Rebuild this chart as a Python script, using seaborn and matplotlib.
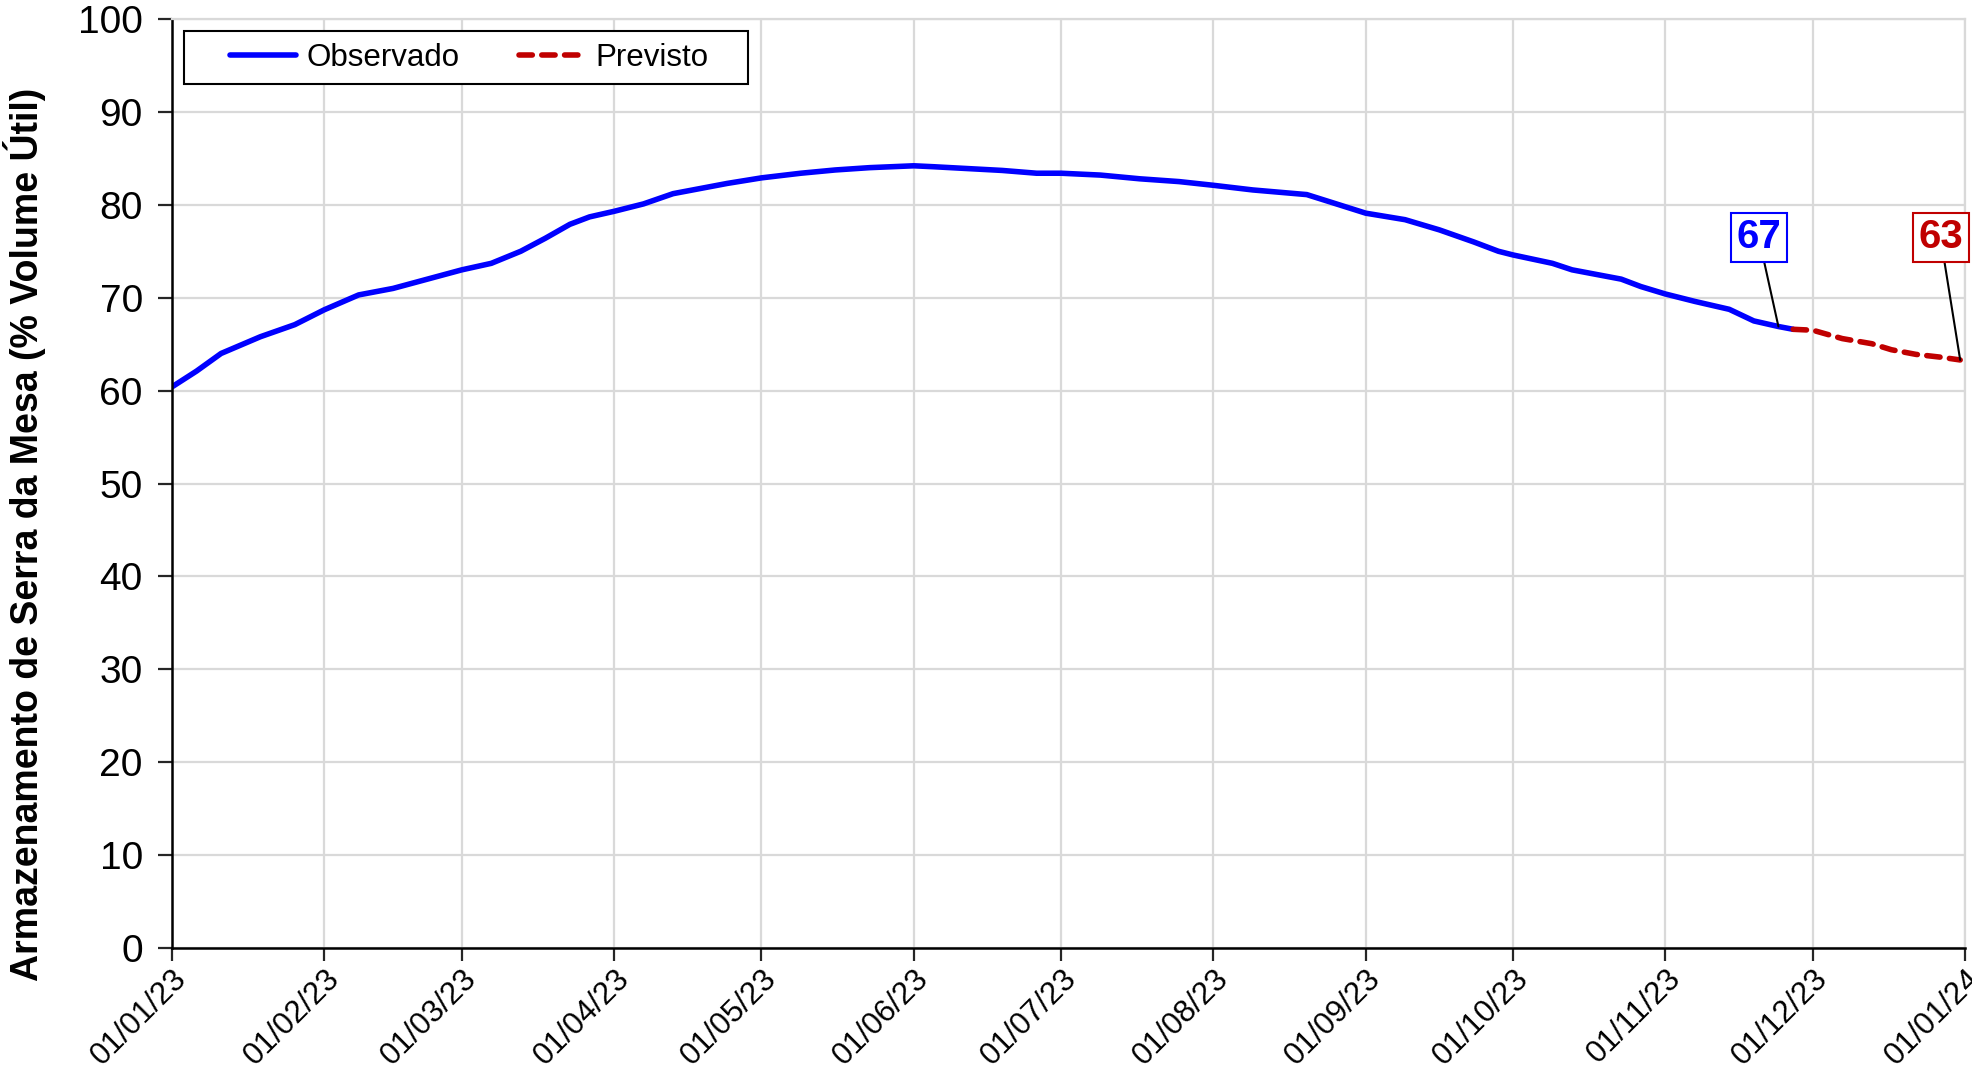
import matplotlib
matplotlib.use("Agg")
import matplotlib.pyplot as plt
import matplotlib.dates as mdates
from matplotlib.patches import Rectangle
import seaborn as sns
import pandas as pd

# Armazenamento observado (% volume útil)
obs_dates = ["2023-01-01", "2023-01-06", "2023-01-11", "2023-01-19", "2023-01-26",
             "2023-02-01", "2023-02-08", "2023-02-15", "2023-02-22", "2023-03-01",
             "2023-03-07", "2023-03-13", "2023-03-18", "2023-03-23", "2023-03-27",
             "2023-04-01", "2023-04-07", "2023-04-13", "2023-04-18", "2023-04-24",
             "2023-05-01", "2023-05-09", "2023-05-16", "2023-05-23", "2023-06-01",
             "2023-06-05", "2023-06-12", "2023-06-19", "2023-06-26", "2023-07-01",
             "2023-07-09", "2023-07-17", "2023-07-25", "2023-08-01", "2023-08-09",
             "2023-08-20", "2023-08-26", "2023-09-01", "2023-09-09", "2023-09-16",
             "2023-09-23", "2023-09-28", "2023-10-01", "2023-10-09", "2023-10-13",
             "2023-10-23", "2023-10-27", "2023-11-01", "2023-11-07", "2023-11-14",
             "2023-11-19", "2023-11-24", "2023-11-27"]
obs_values = [60.4, 62.1, 64.0, 65.8, 67.1,
              68.7, 70.3, 71.0, 72.0, 73.0,
              73.7, 75.0, 76.4, 77.9, 78.7,
              79.3, 80.1, 81.2, 81.7, 82.3,
              82.9, 83.4, 83.75, 84.0, 84.2,
              84.1, 83.9, 83.7, 83.4, 83.4,
              83.2, 82.8, 82.5, 82.1, 81.6,
              81.1, 80.1, 79.1, 78.4, 77.3,
              76.0, 75.0, 74.6, 73.7, 73.0,
              72.0, 71.2, 70.4, 69.6, 68.75,
              67.5, 66.9, 66.6]

# Previsão
prev_dates = ["2023-11-27", "2023-12-01", "2023-12-07", "2023-12-13",
              "2023-12-17", "2023-12-22", "2023-12-27", "2023-12-31"]
prev_values = [66.6, 66.5, 65.6, 65.05, 64.4, 63.9, 63.6, 63.3]

# rótulos: (data do texto, y do texto, data do ponto, y do ponto, texto)
lbl_obs = ("2023-11-20", 76.5, "2023-11-24", 66.9, "67")
lbl_prev = ("2023-12-27", 76.5, "2023-12-31", 63.3, "63")

obs = pd.DataFrame({"data": pd.to_datetime(obs_dates), "valor": obs_values})
prev = pd.DataFrame({"data": pd.to_datetime(prev_dates), "valor": prev_values})

sns.set_style("whitegrid")
plt.rcParams["font.family"] = ["Liberation Sans", "DejaVu Sans"]

BLUE = "#0000FF"
RED = "#C00000"

fig = plt.figure(figsize=(19.72, 10.74), dpi=100)
ax = fig.add_axes([0.0872, 0.1173, 0.9093, 0.865])

sns.lineplot(data=obs, x="data", y="valor", ax=ax, color=BLUE, lw=4,
             label="Observado", solid_capstyle="round")
sns.lineplot(data=prev, x="data", y="valor", ax=ax, color=RED, lw=4,
             linestyle=(0, (2.4, 1.7)), dash_capstyle="round", label="Previsto")

ax.set_xlim(pd.Timestamp("2023-01-01"), pd.Timestamp("2024-01-01"))
ax.set_ylim(0, 100)
ax.set_yticks(range(0, 101, 10))
ax.xaxis.set_major_locator(mdates.MonthLocator())
ax.xaxis.set_major_formatter(mdates.DateFormatter("%d/%m/%y"))

ax.grid(True, color="#D9D9D9", lw=1.6)
for side in ["top", "right"]:
    ax.spines[side].set_color("#D9D9D9")
    ax.spines[side].set_linewidth(1.6)
for side in ["left", "bottom"]:
    ax.spines[side].set_color("black")
    ax.spines[side].set_linewidth(1.8)

ax.tick_params(axis="y", labelsize=28, length=10, width=1.6, direction="out",
               left=True, pad=11, labelcolor="black")
ax.tick_params(axis="x", labelsize=22.5, length=9, width=1.6, direction="out",
               bottom=True, pad=2, labelcolor="black")
plt.setp(ax.get_xticklabels(), rotation=45, ha="right", rotation_mode="anchor")

ax.set_xlabel("")
ax.set_ylabel("Armazenamento de Serra da Mesa (% Volume Útil)", fontsize=27,
              fontweight="bold", color="black")
ax.yaxis.set_label_coords(-0.070, 0.445)

for (tx, ty, px, py, txt), col in [(lbl_obs, BLUE), (lbl_prev, RED)]:
    ax.annotate(txt, xy=(pd.Timestamp(px), py), xytext=(pd.Timestamp(tx), ty),
                ha="center", va="center", fontsize=29, fontweight="bold", color=col,
                bbox=dict(boxstyle="square,pad=0.14", fc="white", ec=col, lw=1.5),
                arrowprops=dict(arrowstyle="-", color="black", lw=1.5,
                                shrinkA=0, shrinkB=0))

# moldura da legenda
ax.add_patch(Rectangle((0.0067, 0.930), 0.3146, 0.057, transform=ax.transAxes,
                       fc="white", ec="black", lw=1.5, zorder=4))
leg = ax.legend(loc="center", bbox_to_anchor=(0.166, 0.9585), borderaxespad=0,
                ncol=2, fontsize=22.5, frameon=False, handlelength=2.1,
                columnspacing=1.9, handletextpad=0.35)
leg.set_zorder(5)
for t in leg.get_texts():
    t.set_color("black")

fig.savefig("out.png", dpi=100)
